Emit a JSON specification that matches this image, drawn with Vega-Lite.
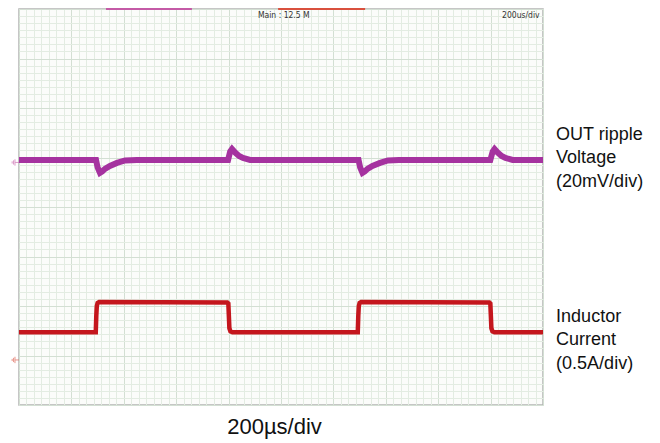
{
  "$schema": "https://vega.github.io/schema/vega-lite/v6.json",
  "width": 524,
  "height": 396,
  "autosize": {"type": "none"},
  "padding": {"left": 19, "top": 9, "right": 117, "bottom": 38},
  "background": "#ffffff",
  "view": {"fill": "#fbfcfa", "stroke": "#b4b4b4", "strokeWidth": 1.5},
  "config": {"font": "Liberation Sans"},
  "datasets": {
    "voltage": [
      {"t": 0, "v": 4.95}, {"t": 294, "v": 4.95}, {"t": 300, "v": 4.8}, {"t": 309, "v": 4.69},
      {"t": 318, "v": 4.72}, {"t": 328, "v": 4.77}, {"t": 347, "v": 4.83}, {"t": 374, "v": 4.89},
      {"t": 405, "v": 4.94}, {"t": 450, "v": 4.95}, {"t": 798, "v": 4.95}, {"t": 806, "v": 5.12},
      {"t": 813, "v": 5.17}, {"t": 825, "v": 5.1}, {"t": 840, "v": 5.03}, {"t": 855, "v": 4.99},
      {"t": 882, "v": 4.95},
      {"t": 1296, "v": 4.95}, {"t": 1302, "v": 4.8}, {"t": 1311, "v": 4.69},
      {"t": 1320, "v": 4.72}, {"t": 1330, "v": 4.77}, {"t": 1349, "v": 4.83}, {"t": 1378, "v": 4.89},
      {"t": 1408, "v": 4.94}, {"t": 1450, "v": 4.95}, {"t": 1799, "v": 4.95}, {"t": 1808, "v": 5.12},
      {"t": 1815, "v": 5.17}, {"t": 1827, "v": 5.1}, {"t": 1842, "v": 5.03}, {"t": 1857, "v": 4.99},
      {"t": 1884, "v": 4.95}, {"t": 2000, "v": 4.95}
    ],
    "current": [
      {"t": 0, "v": 1.47}, {"t": 293, "v": 1.47}, {"t": 295, "v": 1.8}, {"t": 297, "v": 2.0},
      {"t": 300, "v": 2.06}, {"t": 306, "v": 2.08}, {"t": 795, "v": 2.07}, {"t": 799, "v": 2.05},
      {"t": 801, "v": 1.8}, {"t": 803, "v": 1.55}, {"t": 807, "v": 1.49}, {"t": 815, "v": 1.47},
      {"t": 1293, "v": 1.47}, {"t": 1295, "v": 1.8}, {"t": 1297, "v": 2.0},
      {"t": 1300, "v": 2.06}, {"t": 1306, "v": 2.08}, {"t": 1795, "v": 2.07}, {"t": 1799, "v": 2.05},
      {"t": 1801, "v": 1.8}, {"t": 1803, "v": 1.55}, {"t": 1807, "v": 1.49}, {"t": 1815, "v": 1.47},
      {"t": 2000, "v": 1.47}
    ],
    "labels": [
      {"t": 2050, "v": 5.455, "text": "OUT ripple"},
      {"t": 2050, "v": 4.99, "text": "Voltage"},
      {"t": 2050, "v": 4.505, "text": "(20mV/div)"},
      {"t": 2050, "v": 1.778, "text": "Inductor"},
      {"t": 2050, "v": 1.313, "text": "Current"},
      {"t": 2050, "v": 0.828, "text": "(0.5A/div)"}
    ],
    "headerLeft": [
      {"t": 912, "v": 7.87, "text": "Main : 12.5 M"}
    ],
    "headerRight": [
      {"t": 1987, "v": 7.87, "text": "200us/div"}
    ],
    "markers": [
      {"t": 332, "t2": 660, "ch": "V"},
      {"t": 989, "t2": 1321, "ch": "I"}
    ],
    "grounds": [
      {"t": -14, "v": 4.9, "ch": "V"},
      {"t": -14, "v": 0.91, "ch": "I"}
    ]
  },
  "layer": [
    {
      "data": {"name": "voltage"},
      "mark": {"type": "line", "color": "#a5329f", "strokeWidth": 6, "interpolate": "linear"},
      "encoding": {
        "x": {
          "field": "t", "type": "quantitative",
          "scale": {"domain": [0, 2000], "nice": false, "zero": false},
          "axis": {
            "title": "200µs/div", "titleFontSize": 22, "titleFont": "Liberation Sans", "titleFontWeight": "normal",
            "titleColor": "#111111", "titlePadding": 11, "titleX": 255, "titleAlign": "center",
            "labels": false, "ticks": false, "domain": false,
            "grid": true, "gridColor": "#e3ece2", "gridWidth": 1,
            "values": [0, 28.6, 57.1, 85.7, 114.3, 142.9, 171.4, 200, 228.6, 257.1, 285.7, 314.3, 342.9, 371.4, 400, 428.6, 457.1, 485.7, 514.3, 542.9, 571.4, 600, 628.6, 657.1, 685.7, 714.3, 742.9, 771.4, 800, 828.6, 857.1, 885.7, 914.3, 942.9, 971.4, 1000, 1028.6, 1057.1, 1085.7, 1114.3, 1142.9, 1171.4, 1200, 1228.6, 1257.1, 1285.7, 1314.3, 1342.9, 1371.4, 1400, 1428.6, 1457.1, 1485.7, 1514.3, 1542.9, 1571.4, 1600, 1628.6, 1657.1, 1685.7, 1714.3, 1742.9, 1771.4, 1800, 1828.6, 1857.1, 1885.7, 1914.3, 1942.9, 1971.4, 2000]
          }
        },
        "y": {
          "field": "v", "type": "quantitative",
          "scale": {"domain": [0, 8], "nice": false, "zero": false},
          "axis": {
            "title": null, "labels": false, "ticks": false, "domain": false,
            "grid": true, "gridColor": "#e3ece2", "gridWidth": 1,
            "values": [0, 0.143, 0.286, 0.429, 0.571, 0.714, 0.857, 1, 1.143, 1.286, 1.429, 1.571, 1.714, 1.857, 2, 2.143, 2.286, 2.429, 2.571, 2.714, 2.857, 3, 3.143, 3.286, 3.429, 3.571, 3.714, 3.857, 4, 4.143, 4.286, 4.429, 4.571, 4.714, 4.857, 5, 5.143, 5.286, 5.429, 5.571, 5.714, 5.857, 6, 6.143, 6.286, 6.429, 6.571, 6.714, 6.857, 7, 7.143, 7.286, 7.429, 7.571, 7.714, 7.857, 8]
          }
        }
      }
    },
    {
      "data": {"name": "current"},
      "mark": {"type": "line", "color": "#c4161d", "strokeWidth": 4.5, "interpolate": "linear"},
      "encoding": {
        "x": {
          "field": "t", "type": "quantitative",
          "scale": {"domain": [0, 2000], "nice": false, "zero": false},
          "axis": {
            "title": null, "labels": false, "ticks": false, "domain": false,
            "grid": true, "gridColor": "#d3dfd3", "gridWidth": 1,
            "values": [0, 200, 400, 600, 800, 1000, 1200, 1400, 1600, 1800, 2000]
          }
        },
        "y": {
          "field": "v", "type": "quantitative",
          "scale": {"domain": [0, 8], "nice": false, "zero": false},
          "axis": {
            "title": null, "labels": false, "ticks": false, "domain": false,
            "grid": true, "gridColor": "#d3dfd3", "gridWidth": 1,
            "values": [0, 1, 2, 3, 4, 5, 6, 7, 8]
          }
        }
      }
    },
    {
      "data": {"name": "markers"},
      "mark": {"type": "rule", "strokeWidth": 2},
      "encoding": {
        "x": {"field": "t", "type": "quantitative", "scale": {"domain": [0, 2000], "nice": false, "zero": false}, "axis": null},
        "x2": {"field": "t2"},
        "y": {"datum": 8, "type": "quantitative", "scale": {"domain": [0, 8], "nice": false, "zero": false}, "axis": null},
        "color": {"field": "ch", "type": "nominal", "scale": {"domain": ["V", "I"], "range": ["#c45aa6", "#d9503e"]}, "legend": null}
      }
    },
    {
      "data": {"name": "grounds"},
      "mark": {"type": "point", "shape": "M1,0L-0.1,0M-0.1,-0.9L-0.1,0.9M-0.5,-0.6L-0.5,0.6M-0.9,-0.3L-0.9,0.3", "filled": false, "size": 50, "strokeWidth": 1, "opacity": 0.6},
      "encoding": {
        "x": {"field": "t", "type": "quantitative", "scale": {"domain": [0, 2000], "nice": false, "zero": false}, "axis": null},
        "y": {"field": "v", "type": "quantitative", "scale": {"domain": [0, 8], "nice": false, "zero": false}, "axis": null},
        "color": {"field": "ch", "type": "nominal", "scale": {"domain": ["V", "I"], "range": ["#c45aa6", "#d9503e"]}, "legend": null}
      }
    },
    {
      "data": {"name": "headerLeft"},
      "mark": {"type": "text", "font": "DejaVu Sans Condensed", "fontSize": 8.5, "color": "#333333", "baseline": "middle", "align": "left"},
      "encoding": {
        "x": {"field": "t", "type": "quantitative", "scale": {"domain": [0, 2000], "nice": false, "zero": false}, "axis": null},
        "y": {"field": "v", "type": "quantitative", "scale": {"domain": [0, 8], "nice": false, "zero": false}, "axis": null},
        "text": {"field": "text"}
      }
    },
    {
      "data": {"name": "headerRight"},
      "mark": {"type": "text", "font": "DejaVu Sans Condensed", "fontSize": 8.5, "color": "#333333", "baseline": "middle", "align": "right"},
      "encoding": {
        "x": {"field": "t", "type": "quantitative", "scale": {"domain": [0, 2000], "nice": false, "zero": false}, "axis": null},
        "y": {"field": "v", "type": "quantitative", "scale": {"domain": [0, 8], "nice": false, "zero": false}, "axis": null},
        "text": {"field": "text"}
      }
    },
    {
      "data": {"name": "labels"},
      "mark": {"type": "text", "font": "Liberation Sans", "fontSize": 18, "color": "#111111", "align": "left", "baseline": "middle"},
      "encoding": {
        "x": {"field": "t", "type": "quantitative", "scale": {"domain": [0, 2000], "nice": false, "zero": false}, "axis": null},
        "y": {"field": "v", "type": "quantitative", "scale": {"domain": [0, 8], "nice": false, "zero": false}, "axis": null},
        "text": {"field": "text"}
      }
    }
  ],
  "resolve": {"axis": {"x": "independent", "y": "independent"}}
}
